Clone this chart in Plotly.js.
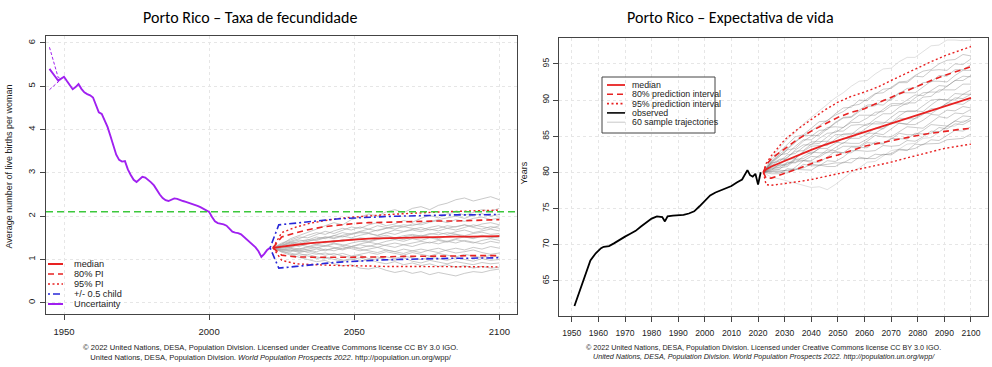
<!DOCTYPE html>
<html><head><meta charset="utf-8">
<script src="https://cdn.plot.ly/plotly-3.0.1.min.js"></script>
<style>html,body{margin:0;padding:0;background:#fff}#chart{width:992px;height:367px}</style>
</head><body><div id="chart"></div>
<script>
// ---------- LEFT: fertility ----------
const histYears = [1945,1946,1947,1948,1949,1950,1951,1952,1953,1954,1955,1956,1957,1958,1959,1960,1961,1962,1963,1964,1965,1966,1967,1968,1969,1970,1971,1972,1973,1974,1975,1976,1977,1978,1979,1980,1981,1982,1983,1984,1985,1986,1987,1988,1989,1990,1991,1992,1993,1994,1995,1996,1997,1998,1999,2000,2001,2002,2003,2004,2005,2006,2007,2008,2009,2010,2011,2012,2013,2014,2015,2016,2017,2018,2019,2020,2021];
const histTFR = [5.40,5.32,5.22,5.13,5.18,5.22,5.12,5.02,4.93,4.98,5.05,4.94,4.86,4.82,4.79,4.74,4.55,4.40,4.36,4.22,4.06,3.85,3.62,3.42,3.30,3.26,3.27,3.08,2.95,2.84,2.79,2.86,2.91,2.89,2.84,2.78,2.71,2.60,2.50,2.42,2.37,2.35,2.38,2.41,2.40,2.37,2.35,2.33,2.31,2.29,2.27,2.24,2.21,2.17,2.13,2.10,1.98,1.88,1.84,1.83,1.81,1.78,1.70,1.64,1.62,1.61,1.58,1.52,1.46,1.42,1.35,1.28,1.19,1.06,1.13,1.22,1.27];
const uncYears = [1945,1946,1947,1948,1949];
const uncUpper = [5.90,5.65,5.40,5.20,5.18];
const uncLower = [4.92,4.98,5.05,5.10,5.16];
const replacementLevel = 2.1;

const projYears = [2022,2025,2030,2035,2040,2045,2050,2055,2060,2065,2070,2075,2080,2085,2090,2095,2100];
const tfrMedian = [1.27,1.30,1.34,1.38,1.41,1.44,1.46,1.48,1.49,1.50,1.51,1.52,1.52,1.53,1.53,1.54,1.54];
const tfrUp80 = [1.27,1.52,1.62,1.70,1.76,1.80,1.83,1.85,1.86,1.87,1.88,1.88,1.89,1.89,1.90,1.91,1.92];
const tfrLo80 = [1.27,1.10,1.06,1.05,1.05,1.05,1.05,1.06,1.06,1.07,1.07,1.08,1.08,1.08,1.09,1.09,1.09];
const tfrUp95 = [1.27,1.62,1.75,1.84,1.90,1.95,1.98,2.01,2.03,2.05,2.07,2.08,2.10,2.11,2.12,2.13,2.14];
const tfrLo95 = [1.27,0.98,0.90,0.88,0.87,0.86,0.86,0.85,0.84,0.84,0.84,0.83,0.83,0.83,0.83,0.83,0.83];
const halfChildYears = [2021,2024,2030,2035,2040,2045,2050,2055,2060,2065,2070,2075,2080,2085,2090,2095,2100];
const halfChildUp = [1.27,1.80,1.84,1.88,1.91,1.94,1.96,1.98,1.99,2.00,2.01,2.02,2.02,2.03,2.03,2.04,2.04];
const halfChildLo = [1.27,0.80,0.84,0.88,0.91,0.94,0.96,0.98,0.99,1.00,1.01,1.02,1.02,1.03,1.03,1.04,1.04];

const trajYears = [2022,2025,2028,2031,2034,2037,2040,2043,2046,2049,2052,2055,2058,2061,2064,2067,2070,2073,2076,2079,2082,2085,2088,2091,2094,2097,2100];
const tfrTraj = [
[1.27,1.35,1.48,1.55,1.62,1.70,1.78,1.85,1.80,1.92,1.98,2.05,2.00,2.10,2.15,2.08,2.18,2.22,2.15,2.25,2.30,2.38,2.42,2.35,2.40,2.45,2.38],
[1.27,1.20,1.12,1.05,1.00,0.95,0.98,0.90,0.85,0.88,0.80,0.78,0.82,0.75,0.70,0.74,0.68,0.72,0.65,0.70,0.66,0.62,0.68,0.72,0.70,0.75,0.78],
[1.27,1.32,1.40,1.38,1.45,1.52,1.48,1.55,1.62,1.58,1.65,1.70,1.66,1.72,1.78,1.75,1.82,1.80,1.86,1.90,1.85,1.92,1.88,1.95,1.98,1.92,1.96],
[1.27,1.25,1.22,1.18,1.20,1.15,1.10,1.14,1.08,1.05,1.10,1.02,1.06,1.00,0.98,1.04,0.96,0.92,0.98,0.94,0.90,0.95,0.92,0.88,0.93,0.90,0.92],
[1.27,1.30,1.28,1.34,1.38,1.35,1.42,1.40,1.46,1.44,1.50,1.48,1.52,1.56,1.50,1.55,1.58,1.54,1.60,1.57,1.62,1.58,1.55,1.60,1.63,1.58,1.60],
[1.27,1.38,1.45,1.52,1.50,1.58,1.65,1.60,1.68,1.75,1.72,1.80,1.85,1.78,1.82,1.90,1.86,1.95,2.02,1.96,2.05,2.10,2.02,2.08,2.15,2.12,2.18],
[1.27,1.22,1.25,1.20,1.24,1.28,1.22,1.26,1.30,1.25,1.20,1.24,1.28,1.22,1.18,1.24,1.20,1.16,1.22,1.26,1.20,1.15,1.18,1.22,1.16,1.12,1.15],
[1.27,1.33,1.36,1.42,1.46,1.44,1.50,1.55,1.52,1.58,1.62,1.60,1.55,1.62,1.68,1.65,1.70,1.74,1.68,1.72,1.78,1.75,1.80,1.76,1.82,1.85,1.80],
[1.27,1.18,1.15,1.10,1.12,1.06,1.02,1.05,0.98,1.02,0.96,1.00,0.94,0.90,0.95,0.88,0.92,0.86,0.90,0.84,0.88,0.82,0.86,0.80,0.84,0.80,0.82],
[1.27,1.28,1.34,1.30,1.36,1.40,1.38,1.44,1.42,1.48,1.46,1.42,1.48,1.52,1.50,1.46,1.52,1.56,1.52,1.48,1.54,1.58,1.52,1.50,1.56,1.52,1.50],
[1.27,1.36,1.42,1.48,1.56,1.62,1.58,1.66,1.72,1.68,1.75,1.70,1.78,1.74,1.70,1.76,1.72,1.68,1.74,1.78,1.72,1.76,1.80,1.74,1.70,1.76,1.72],
[1.27,1.24,1.20,1.26,1.22,1.18,1.24,1.20,1.26,1.30,1.26,1.32,1.28,1.34,1.38,1.34,1.30,1.36,1.40,1.36,1.42,1.38,1.44,1.40,1.36,1.42,1.38],
[1.27,1.30,1.26,1.22,1.28,1.32,1.30,1.36,1.32,1.38,1.42,1.40,1.46,1.50,1.46,1.52,1.56,1.52,1.58,1.62,1.58,1.64,1.68,1.62,1.66,1.70,1.66],
[1.27,1.21,1.18,1.22,1.16,1.12,1.15,1.10,1.14,1.08,1.12,1.16,1.12,1.18,1.14,1.10,1.16,1.12,1.08,1.14,1.10,1.06,1.12,1.08,1.04,1.10,1.06],
[1.27,1.34,1.40,1.45,1.42,1.48,1.52,1.50,1.56,1.60,1.64,1.62,1.68,1.72,1.76,1.80,1.78,1.84,1.88,1.92,1.96,2.00,1.95,2.02,2.06,2.00,2.04],
[1.27,1.26,1.30,1.34,1.30,1.26,1.32,1.28,1.24,1.30,1.34,1.30,1.36,1.32,1.28,1.34,1.38,1.42,1.38,1.44,1.40,1.46,1.42,1.38,1.44,1.48,1.44],
[1.27,1.19,1.22,1.16,1.20,1.24,1.20,1.26,1.22,1.28,1.24,1.20,1.16,1.22,1.18,1.14,1.20,1.24,1.20,1.16,1.22,1.26,1.22,1.28,1.24,1.30,1.26],
[1.27,1.31,1.38,1.35,1.42,1.46,1.52,1.48,1.54,1.50,1.56,1.60,1.56,1.62,1.58,1.64,1.68,1.64,1.70,1.66,1.72,1.68,1.74,1.80,1.76,1.72,1.78],
[1.27,1.23,1.28,1.24,1.30,1.35,1.32,1.38,1.34,1.30,1.36,1.40,1.36,1.42,1.46,1.42,1.48,1.44,1.50,1.46,1.42,1.48,1.52,1.48,1.54,1.50,1.56],
[1.27,1.17,1.10,1.14,1.08,1.02,1.06,1.00,0.96,1.00,1.04,0.98,1.02,1.06,1.02,1.08,1.04,1.00,1.06,1.02,0.98,1.04,1.00,0.96,1.02,0.98,1.00]
];
const fertTicksX = [1950,2000,2050,2100];
const fertTicksY = [0,1,2,3,4,5,6];

// ---------- RIGHT: life expectancy ----------
const obsYears = [1951,1953,1955,1957,1959,1961,1962,1964,1966,1968,1970,1972,1974,1976,1978,1980,1982,1984,1985,1986,1988,1990,1992,1994,1996,1998,2000,2002,2004,2006,2008,2010,2012,2014,2016,2017,2018,2019,2020,2021];
const obsE0 = [61.5,63.6,66.0,67.8,68.8,69.5,69.7,69.8,70.2,70.7,71.1,71.5,71.9,72.5,73.1,73.6,73.9,73.8,73.2,73.9,74.0,74.0,74.1,74.3,74.6,75.3,76.0,76.8,77.2,77.5,77.9,78.1,78.6,79.0,80.3,79.6,79.4,79.8,78.3,80.0];
const e0Years = [2022,2023,2025,2030,2035,2040,2045,2050,2055,2060,2065,2070,2075,2080,2085,2090,2095,2100];
const e0Median = [80.0,80.4,80.8,81.6,82.4,83.1,83.8,84.4,85.0,85.6,86.2,86.8,87.4,88.0,88.6,89.2,89.8,90.3];
const e0Up80 = [80.0,81.0,81.9,83.3,84.6,85.7,86.7,87.6,88.3,88.8,89.6,90.4,91.2,92.0,92.7,93.4,94.0,94.6];
const e0Lo80 = [80.0,79.2,79.2,79.8,80.5,81.2,81.9,82.4,83.0,83.6,84.0,84.4,84.8,85.1,85.4,85.7,85.9,86.1];
const e0Up95 = [80.0,81.2,82.3,84.5,86.0,87.3,88.6,89.7,90.5,91.1,91.8,92.7,93.6,94.5,95.3,96.1,96.8,97.4];
const e0Lo95 = [80.0,78.3,78.2,78.4,78.7,79.0,79.4,79.8,80.2,80.5,80.9,81.4,81.9,82.4,82.9,83.3,83.6,83.9];
const e0Traj = [
[80.0,81.4,82.5,83.3,84.3,85.0,85.7,86.5,87.1,87.9,88.4,89.2,89.4,90.1,90.9,91.0,91.8,92.5,92.6,93.4,94.0,94.2,95.0,95.5,95.6,96.3,96.1],
[80.0,80.0,80.1,80.3,80.5,80.6,81.1,81.0,81.1,81.3,81.3,81.9,81.9,81.9,82.5,82.4,82.6,83.2,83.1,83.3,83.9,83.9,84.0,84.5,84.6,84.7,85.3],
[80.0,81.1,81.8,82.0,83.1,83.8,83.8,84.7,85.4,85.5,86.2,86.9,86.9,87.5,88.3,88.4,89.2,89.3,90.0,90.7,90.6,91.3,92.0,91.9,92.7,93.3,93.2],
[80.0,80.5,80.7,81.4,81.4,81.6,82.2,82.1,82.8,82.7,82.7,83.5,83.4,83.4,84.2,84.0,84.7,84.6,84.6,85.4,85.3,85.4,86.2,86.0,86.7,86.6,87.2],
[80.0,81.3,81.5,82.4,82.6,83.5,84.2,84.3,84.3,85.2,85.2,85.2,86.1,86.7,86.7,86.7,87.6,88.4,88.4,88.4,89.2,90.0,90.1,90.0,90.9,90.8,91.4],
[80.0,80.3,81.1,81.1,81.9,82.8,82.6,83.3,84.2,84.2,84.0,84.8,85.6,85.4,85.4,86.1,86.9,86.8,86.7,87.5,88.2,88.1,88.9,89.6,89.5,89.4,90.1],
[80.0,81.7,82.8,83.9,84.9,85.2,86.1,87.0,87.1,88.1,88.9,89.0,90.0,89.9,90.8,91.5,91.6,92.4,92.4,93.3,93.2,94.1,94.2,94.1,95.0,94.9,95.7],
[80.0,79.8,79.8,80.5,80.4,80.4,80.3,81.0,80.8,80.8,81.4,81.3,82.1,81.9,81.9,82.5,82.4,83.1,83.0,83.9,83.8,84.5,84.4,85.1,85.8,85.7,86.3],
[80.0,81.0,81.0,82.1,82.9,83.0,83.9,84.0,84.9,85.7,85.7,86.5,86.6,86.5,87.4,88.1,88.1,89.0,89.6,89.6,90.4,90.5,91.4,91.4,91.4,92.2,92.2],
[80.0,80.6,80.6,80.8,81.7,81.7,81.6,82.3,83.1,83.0,83.6,83.6,83.6,84.3,85.1,84.9,84.9,85.6,86.3,86.2,86.1,86.9,87.7,87.5,88.2,88.1,88.7],
[80.0,81.2,82.2,83.1,83.3,84.3,85.0,85.8,85.9,86.8,87.5,87.6,88.4,89.1,89.2,90.0,90.0,90.9,91.6,91.7,92.4,92.5,93.4,93.3,94.2,94.2,94.9],
[80.0,80.2,80.4,81.3,81.3,82.2,82.8,82.7,82.7,83.4,84.1,84.0,84.0,84.6,85.4,85.2,86.0,86.8,86.6,86.6,87.2,88.0,87.9,88.6,88.5,89.1,88.9],
[80.0,81.5,82.4,82.6,83.6,84.5,84.5,85.4,86.2,86.3,86.2,87.1,87.9,87.9,87.9,88.7,89.5,89.5,89.4,90.3,91.0,91.1,91.1,91.9,92.7,92.7,93.4],
[80.0,80.4,80.3,80.2,80.3,81.1,80.9,80.9,81.6,81.5,82.1,83.0,83.0,82.9,83.0,83.7,83.6,83.7,84.4,84.3,84.9,85.7,85.6,86.3,87.1,86.9,87.5],
[80.0,80.9,81.7,81.8,81.9,82.9,83.6,83.7,83.7,84.6,85.3,85.4,85.4,86.2,87.0,86.9,86.9,87.8,88.5,88.5,88.4,89.3,90.1,90.0,90.0,90.8,90.8],
[80.0,80.7,80.9,81.0,81.8,81.9,82.5,83.3,83.3,84.0,84.7,84.7,84.7,85.3,86.1,86.0,86.7,87.5,87.4,87.4,88.0,88.8,88.8,89.5,90.3,90.2,90.8],
[80.0,81.4,82.2,83.2,84.1,85.1,85.1,85.1,86.0,86.9,87.6,87.7,88.6,89.3,89.4,89.3,90.2,91.0,91.0,91.0,91.8,92.6,92.6,92.5,93.4,94.1,94.1],
[80.0,80.1,80.0,79.9,80.7,81.6,81.4,81.4,82.1,82.9,82.7,82.7,83.4,84.1,84.0,83.9,84.6,85.4,85.2,85.2,85.8,86.6,86.5,86.4,87.1,87.8,87.7]
];
const e0TrajLight = [
[80.0,79.3,79.1,78.8,78.5,78.3,77.9,78.0,77.6,78.3,79.1,80.0,80.6,81.4,81.5,82.2,83.0,83.2,83.9,84.0,84.7,84.8,85.6,86.3,86.4,87.1,87.1],
[80.0,82.0,83.3,84.6,85.5,86.7,87.6,88.5,89.5,90.3,91.0,91.9,92.6,92.7,93.6,94.3,94.4,95.3,95.9,95.9,96.7,97.5,97.6,98.3,98.3,98.2,98.3]
];
const lifeTicksX = [1950,1960,1970,1980,1990,2000,2010,2020,2030,2040,2050,2060,2070,2080,2090,2100];
const lifeTicksY = [65,70,75,80,85,90,95];

// ---------- colours & helpers ----------
const RED = 'rgb(232,34,34)', BLUE = 'rgb(40,40,215)', GREEN = 'rgb(60,200,60)', PURPLE = 'rgb(160,32,240)';
const W = 992, H = 367;
const px = x => x / W, py = y => 1 - y / H;
const DASH = '6px,4px', DOT = '2px,2.5px', DASHDOT = '2px,3px,7px,3px';

const traces = [];
tfrTraj.forEach(t => traces.push({x: trajYears, y: t, xaxis:'x', yaxis:'y', mode:'lines', line:{color:'rgba(170,170,170,0.8)', width:0.8}, hoverinfo:'skip', showlegend:false}));
traces.push({x: uncYears, y: uncUpper, xaxis:'x', yaxis:'y', mode:'lines', line:{color:PURPLE, width:1, dash:'3px,2px'}, showlegend:false});
traces.push({x: uncYears, y: uncLower, xaxis:'x', yaxis:'y', mode:'lines', line:{color:PURPLE, width:1, dash:'3px,2px'}, showlegend:false});
traces.push({x: histYears, y: histTFR, xaxis:'x', yaxis:'y', mode:'lines', line:{color:PURPLE, width:1.9}, showlegend:false});
traces.push({x: projYears, y: tfrUp95, xaxis:'x', yaxis:'y', mode:'lines', line:{color:RED, width:1.4, dash:DOT}, showlegend:false});
traces.push({x: projYears, y: tfrLo95, xaxis:'x', yaxis:'y', mode:'lines', line:{color:RED, width:1.4, dash:DOT}, showlegend:false});
traces.push({x: projYears, y: tfrUp80, xaxis:'x', yaxis:'y', mode:'lines', line:{color:RED, width:1.6, dash:DASH}, showlegend:false});
traces.push({x: projYears, y: tfrLo80, xaxis:'x', yaxis:'y', mode:'lines', line:{color:RED, width:1.6, dash:DASH}, showlegend:false});
traces.push({x: halfChildYears, y: halfChildUp, xaxis:'x', yaxis:'y', mode:'lines', line:{color:BLUE, width:1.6, dash:DASHDOT}, showlegend:false});
traces.push({x: halfChildYears, y: halfChildLo, xaxis:'x', yaxis:'y', mode:'lines', line:{color:BLUE, width:1.6, dash:DASHDOT}, showlegend:false});
traces.push({x: projYears, y: tfrMedian, xaxis:'x', yaxis:'y', mode:'lines', line:{color:RED, width:1.8}, showlegend:false});

e0TrajLight.forEach(t => traces.push({x: trajYears, y: t, xaxis:'x2', yaxis:'y2', mode:'lines', line:{color:'rgba(200,200,200,0.7)', width:0.8}, showlegend:false}));
e0Traj.forEach(t => traces.push({x: trajYears, y: t, xaxis:'x2', yaxis:'y2', mode:'lines', line:{color:'rgba(110,110,110,0.45)', width:0.8}, showlegend:false}));
traces.push({x: obsYears, y: obsE0, xaxis:'x2', yaxis:'y2', mode:'lines', line:{color:'#000', width:1.8}, showlegend:false});
traces.push({x: e0Years, y: e0Up95, xaxis:'x2', yaxis:'y2', mode:'lines', line:{color:RED, width:1.4, dash:DOT}, showlegend:false});
traces.push({x: e0Years, y: e0Lo95, xaxis:'x2', yaxis:'y2', mode:'lines', line:{color:RED, width:1.4, dash:DOT}, showlegend:false});
traces.push({x: e0Years, y: e0Up80, xaxis:'x2', yaxis:'y2', mode:'lines', line:{color:RED, width:1.6, dash:DASH}, showlegend:false});
traces.push({x: e0Years, y: e0Lo80, xaxis:'x2', yaxis:'y2', mode:'lines', line:{color:RED, width:1.6, dash:DASH}, showlegend:false});
traces.push({x: e0Years, y: e0Median, xaxis:'x2', yaxis:'y2', mode:'lines', line:{color:RED, width:1.8}, showlegend:false});

const axisBase = {
  showline:true, mirror:true, linecolor:'#444', linewidth:1,
  ticks:'outside', ticklen:5, tickcolor:'#444', tickwidth:1,
  showgrid:true, gridcolor:'#e6e6e6', griddash:'dot', gridwidth:1,
  zeroline:false, fixedrange:true, tickmode:'array',
  tickfont:{family:'Liberation Sans, Arial, sans-serif', size:9.5, color:'#222'}
};

const shapes = [
  {type:'line', xref:'x domain', x0:0, x1:1, yref:'y', y0:replacementLevel, y1:replacementLevel, line:{color:GREEN, width:1.5, dash:'7px,4px'}, layer:'above'}
];
const annotations = [];
const FONT = 'Liberation Sans, Arial, sans-serif';

// left legend
const leftLeg = [
  ['median', RED, 'solid', 2],
  ['80% PI', RED, DASH, 1.6],
  ['95% PI', RED, DOT, 1.6],
  ['+/- 0.5 child', BLUE, DASHDOT, 1.6],
  ['Uncertainty', PURPLE, 'solid', 2]
];
leftLeg.forEach((e, i) => {
  const yy = 264 + i * 10;
  shapes.push({type:'line', xref:'paper', yref:'paper', x0:px(48), x1:px(63), y0:py(yy), y1:py(yy), line:{color:e[1], dash:e[2], width:e[3]}});
  annotations.push({xref:'paper', yref:'paper', x:px(71.5), y:py(yy), xanchor:'left', yanchor:'middle', text:e[0], showarrow:false, font:{family:FONT, size:9.2, color:'#222'}});
});

// right legend
shapes.push({type:'rect', xref:'paper', yref:'paper', x0:px(602), x1:px(715), y0:py(77), y1:py(133), line:{color:'#444', width:1}, fillcolor:'rgba(255,255,255,0)'});
const rightLeg = [
  ['median', RED, 'solid', 1.8],
  ['80% prediction interval', RED, DASH, 1.6],
  ['95% prediction interval', RED, DOT, 1.6],
  ['observed', '#000', 'solid', 1.6],
  ['60 sample trajectories', '#c8c8c8', 'solid', 1]
];
rightLeg.forEach((e, i) => {
  const yy = 85 + i * 9.3;
  shapes.push({type:'line', xref:'paper', yref:'paper', x0:px(607), x1:px(625), y0:py(yy), y1:py(yy), line:{color:e[1], dash:e[2], width:e[3]}});
  annotations.push({xref:'paper', yref:'paper', x:px(629.5), y:py(yy), xanchor:'left', yanchor:'middle', text:e[0], showarrow:false, font:{family:FONT, size:8.8, color:'#222'}});
});

// titles
annotations.push({xref:'paper', yref:'paper', x:px(250), y:py(17), xanchor:'center', yanchor:'middle', text:'Porto Rico – Taxa de fecundidade', showarrow:false, font:{family:'Carlito, Lato, sans-serif', size:16, color:'#000'}});
annotations.push({xref:'paper', yref:'paper', x:px(730), y:py(17), xanchor:'center', yanchor:'middle', text:'Porto Rico – Expectativa de vida', showarrow:false, font:{family:'Carlito, Lato, sans-serif', size:16, color:'#000'}});
// axis titles
annotations.push({xref:'paper', yref:'paper', x:px(8.5), y:py(167), xanchor:'center', yanchor:'middle', textangle:-90, text:'Average number of live births per woman', showarrow:false, font:{family:FONT, size:9, color:'#222'}});
annotations.push({xref:'paper', yref:'paper', x:px(523.5), y:py(173), xanchor:'center', yanchor:'middle', textangle:-90, text:'Years', showarrow:false, font:{family:FONT, size:9, color:'#222'}});
// captions
annotations.push({xref:'paper', yref:'paper', x:px(270), y:py(352), xanchor:'center', yanchor:'middle', align:'center', text:'© 2022 United Nations, DESA, Population Division. Licensed under Creative Commons license CC BY 3.0 IGO.<br>United Nations, DESA, Population Division. <i>World Population Prospects 2022</i>. http://population.un.org/wpp/', showarrow:false, font:{family:FONT, size:7.6, color:'#222'}});
annotations.push({xref:'paper', yref:'paper', x:px(763), y:py(352), xanchor:'center', yanchor:'middle', align:'center', text:'© 2022 United Nations, DESA, Population Division. Licensed under Creative Commons license CC BY 3.0 IGO.<br><i>United Nations, DESA, Population Division. World Population Prospects 2022. http://population.un.org/wpp/</i>', showarrow:false, font:{family:FONT, size:7.2, color:'#222'}});

const layout = {
  width: W, height: H, margin:{l:0, r:0, t:0, b:0},
  paper_bgcolor:'#fff', plot_bgcolor:'#fff', showlegend:false,
  xaxis: Object.assign({}, axisBase, {domain:[px(46), px(516.5)], range:[1943.8, 2105.9], tickvals:fertTicksX, anchor:'y', ticklabelstandoff:4}),
  yaxis: Object.assign({}, axisBase, {domain:[py(313.5), py(36)], range:[-0.247, 6.16], tickvals:fertTicksY, anchor:'x', tickangle:-90, ticklabelstandoff:1}),
  xaxis2: Object.assign({}, axisBase, {domain:[px(559), px(988)], range:[1945.2, 2106.4], tickvals:lifeTicksX, anchor:'y2', ticklabelstandoff:4, tickfont:{family:FONT, size:8.6, color:'#222'}}),
  yaxis2: Object.assign({}, axisBase, {domain:[py(316), py(38)], range:[60.12, 98.58], tickvals:lifeTicksY, anchor:'x2', tickangle:-90, ticklabelstandoff:1, tickfont:{family:FONT, size:8.6, color:'#222'}}),
  shapes: shapes, annotations: annotations
};
Plotly.newPlot('chart', traces, layout, {staticPlot:true, displayModeBar:false});
</script></body></html>
